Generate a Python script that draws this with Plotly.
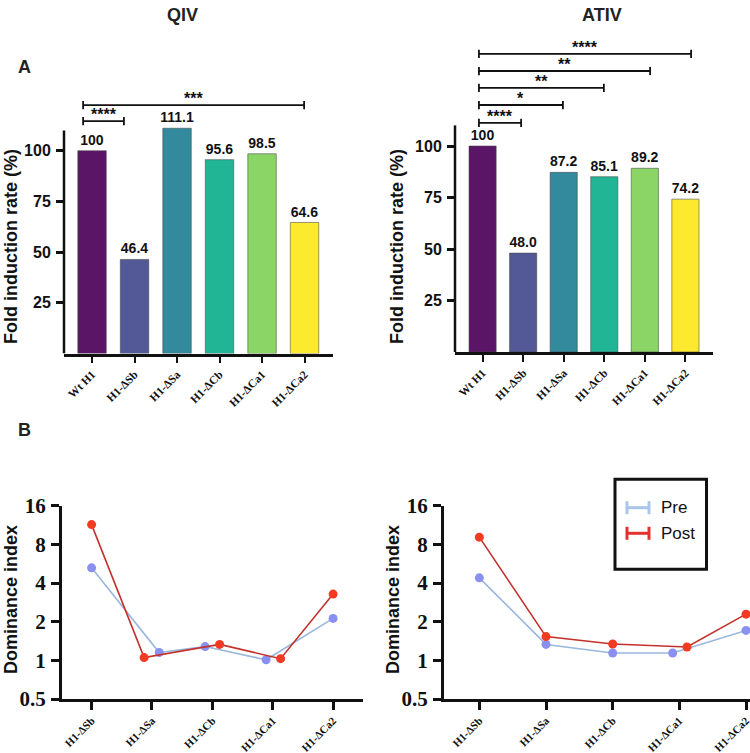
import plotly.graph_objects as go

# ---------------- data ----------------
bar_categories = ["Wt H1", "H1-ΔSb", "H1-ΔSa", "H1-ΔCb", "H1-ΔCa1", "H1-ΔCa2"]
qiv_values = [100, 46.4, 111.1, 95.6, 98.5, 64.6]
ativ_values = [100, 48.0, 87.2, 85.1, 89.2, 74.2]
bar_colors = ["#5a1566", "#525996", "#338a9c", "#22b595", "#8bd567", "#fde92e"]

# significance brackets (start/end in category units, height in %)
qiv_sig_start = [-0.21, -0.21]
qiv_sig_end = [0.75, 4.99]
qiv_sig_y = [114.6, 122.5]
qiv_sig_label = ["****", "***"]

ativ_sig_start = [-0.09, -0.09, -0.09, -0.09, -0.09]
ativ_sig_end = [0.95, 1.98, 2.99, 4.13, 5.14]
ativ_sig_y = [111.2, 119.9, 128.2, 136.4, 144.7]
ativ_sig_label = ["****", "*", "**", "**", "****"]

line_categories = ["H1-ΔSb", "H1-ΔSa", "H1-ΔCb", "H1-ΔCa1", "H1-ΔCa2"]
qiv_pre = [5.25, 1.15, 1.28, 1.01, 2.12]
qiv_post = [11.4, 1.05, 1.33, 1.03, 3.28]
ativ_pre = [4.39, 1.33, 1.14, 1.14, 1.71]
ativ_post = [9.1, 1.53, 1.34, 1.27, 2.29]
# horizontal dodge of overlapping points (category units)
qiv_pre_dx = [0, 0.12, -0.12, -0.11, 0]
qiv_post_dx = [0, -0.13, 0.12, 0.13, 0]
ativ_pre_dx = [0, 0, 0, -0.10, 0]
ativ_post_dx = [0, 0, 0, 0.115, 0]

dom_ticks = [0.5, 1, 2, 4, 8, 16]
bar_ticks = [25, 50, 75, 100]

W, H = 750, 753
def px(x):
    return x / W
def py(y):
    return 1 - y / H

SANS = "Liberation Sans"
SERIF = "Liberation Serif"

pre_line = "#9ab7dc"
pre_marker = "#8a90f0"
post_line = "#c4302b"
post_marker = "#f33a22"

fig = go.Figure()

def label_fmt(v):
    return "100" if v == 100 else f"{v:.1f}"

# ---------------- bar charts ----------------
for vals, xa, ya in [(qiv_values, "x", "y"), (ativ_values, "x2", "y2")]:
    fig.add_trace(go.Bar(
        x=list(range(len(bar_categories))), y=vals,
        marker=dict(color=bar_colors, line=dict(color="rgba(70,70,70,0.55)", width=1)),
        width=0.67,
        text=[label_fmt(v) for v in vals], textposition="outside", constraintext="none",
        textfont=dict(family=SANS, size=14, color="#111", weight="bold"),
        cliponaxis=False, xaxis=xa, yaxis=ya, showlegend=False,
    ))

# ---------------- line charts ----------------
for pre, post, pdx, qdx, xa, ya in [
    (qiv_pre, qiv_post, qiv_pre_dx, qiv_post_dx, "x3", "y3"),
    (ativ_pre, ativ_post, ativ_pre_dx, ativ_post_dx, "x4", "y4"),
]:
    fig.add_trace(go.Scatter(
        x=[i + d for i, d in enumerate(pdx)], y=pre, mode="lines+markers",
        line=dict(color=pre_line, width=1.6),
        marker=dict(color=pre_marker, size=9),
        cliponaxis=False, xaxis=xa, yaxis=ya, showlegend=False, name="Pre"))
    fig.add_trace(go.Scatter(
        x=[i + d for i, d in enumerate(qdx)], y=post, mode="lines+markers",
        line=dict(color=post_line, width=1.6),
        marker=dict(color=post_marker, size=9),
        cliponaxis=False, xaxis=xa, yaxis=ya, showlegend=False, name="Post"))

shapes = []
annotations = []

# significance brackets
cap = 2.0
for starts, ends, ys, labs, xr, yr in [
    (qiv_sig_start, qiv_sig_end, qiv_sig_y, qiv_sig_label, "x", "y"),
    (ativ_sig_start, ativ_sig_end, ativ_sig_y, ativ_sig_label, "x2", "y2"),
]:
    for s, e, y, lab in zip(starts, ends, ys, labs):
        ln = dict(color="#111", width=1.8)
        shapes.append(dict(type="line", xref=xr, yref=yr, x0=s, x1=e, y0=y, y1=y, line=ln))
        shapes.append(dict(type="line", xref=xr, yref=yr, x0=s, x1=s, y0=y - cap, y1=y + cap, line=ln))
        shapes.append(dict(type="line", xref=xr, yref=yr, x0=e, x1=e, y0=y - cap, y1=y + cap, line=ln))
        annotations.append(dict(xref=xr, yref=yr, x=(s + e) / 2, y=y, text=lab, showarrow=False,
                                yanchor="bottom", yshift=-4,
                                font=dict(family=SANS, size=16, color="#111", weight="bold")))

# manual y axis lines for bar charts (stop at 110)
for yr, xr in [("y", "x domain"), ("y2", "x2 domain")]:
    shapes.append(dict(type="line", xref=xr, yref=yr, x0=0, x1=0, y0=0, y1=110,
                       line=dict(color="#111", width=2.5)))

# manual legend
shapes.append(dict(type="rect", xref="paper", yref="paper", x0=px(615), x1=px(706.5),
                   y0=py(569.3), y1=py(479.3), line=dict(color="#111", width=3)))
for yy, col, name in [(507.7, "#a9c6ea", "Pre"), (533.3, "#e53030", "Post")]:
    shapes.append(dict(type="line", xref="paper", yref="paper", x0=px(627), x1=px(649),
                       y0=py(yy), y1=py(yy), line=dict(color=col, width=3)))
    for xx in (627, 649):
        shapes.append(dict(type="line", xref="paper", yref="paper", x0=px(xx), x1=px(xx),
                           y0=py(yy - 6.5), y1=py(yy + 6.5), line=dict(color=col, width=3)))
    annotations.append(dict(xref="paper", yref="paper", x=px(659), y=py(yy), text=name,
                            showarrow=False, xanchor="left", yanchor="middle",
                            font=dict(family=SANS, size=17, color="#111")))

# titles and labels
def txt(x, y, t, size, angle=0, family=SANS, color="#222"):
    annotations.append(dict(xref="paper", yref="paper", x=px(x), y=py(y), text=t, showarrow=False,
                            xanchor="center", yanchor="middle", textangle=angle,
                            font=dict(family=family, size=size, color=color, weight="bold")))

txt(182, 15, "QIV", 18)
txt(601.5, 15, "ATIV", 18)
txt(24, 67, "A", 18)
txt(24, 430, "B", 18)
txt(11, 247, "Fold induction rate (%)", 18, -90, color="#111")
txt(397, 247, "Fold induction rate (%)", 18, -90, color="#111")
txt(11, 600, "Dominance index", 18, -90, color="#111")
txt(393, 600, "Dominance index", 18, -90, color="#111")

bar_x = dict(tickmode="array", tickvals=list(range(len(bar_categories))), ticktext=bar_categories,
             tickangle=-45, tickfont=dict(family=SERIF, size=11.5, color="#111", weight="bold"),
             showline=True, linecolor="#111", linewidth=2.5, ticks="outside", ticklen=7,
             tickwidth=2, tickcolor="#111", showgrid=False, zeroline=False, automargin=False,
             ticklabeloverflow="allow")
bar_y = dict(tickmode="array", tickvals=bar_ticks, showline=False, ticks="outside", ticklen=7,
             tickwidth=2.5, tickcolor="#111", showgrid=False, zeroline=False, automargin=False,
             tickfont=dict(family=SANS, size=16, color="#111", weight="bold"), ticklabelstandoff=2)
dom_x = dict(tickmode="array", tickvals=list(range(len(line_categories))), ticktext=line_categories,
             tickangle=-45, tickfont=dict(family=SERIF, size=11, color="#111", weight="bold"),
             showline=True, linecolor="#111", linewidth=3, ticks="outside", ticklen=8,
             tickwidth=2.5, tickcolor="#111", showgrid=False, zeroline=False, automargin=False,
             ticklabeloverflow="allow", ticklabelstandoff=0)
dom_y = dict(type="log", range=[-0.30103, 1.20412], tickmode="array", tickvals=dom_ticks,
             ticktext=[f"{t:g}" for t in dom_ticks], showline=True, linecolor="#111", linewidth=3,
             ticks="outside", ticklen=8, tickwidth=3, tickcolor="#111", showgrid=False,
             zeroline=False, tickfont=dict(family=SERIF, size=21, color="#111", weight="bold"),
             ticklabelstandoff=1, automargin=False)

fig.update_layout(
    width=W, height=H, margin=dict(l=0, r=0, t=0, b=0, autoexpand=False),
    paper_bgcolor="white", plot_bgcolor="white",
    xaxis=dict(bar_x, domain=[px(64), px(333)], range=[-0.66, 5.67], anchor="y"),
    yaxis=dict(bar_y, domain=[py(353.5), py(89.9)], range=[0, 130], anchor="x"),
    xaxis2=dict(bar_x, domain=[px(455), px(713)], range=[-0.68, 5.68], anchor="y2"),
    yaxis2=dict(bar_y, domain=[py(352), py(43)], range=[0, 150], anchor="x2"),
    xaxis3=dict(dom_x, domain=[px(62), px(362.7)], range=[-0.49, 4.49], anchor="y3"),
    yaxis3=dict(dom_y, domain=[py(699), py(505.7)], anchor="x3"),
    xaxis4=dict(dom_x, domain=[px(444), 1.0], range=[-0.53, 4.06], anchor="y4"),
    yaxis4=dict(dom_y, domain=[py(699), py(505.7)], anchor="x4"),
    shapes=shapes, annotations=annotations, bargap=0.33,
)

# remove the default 8px page margin so the figure fills the window exactly
fig.write_html("out.html", config={"displayModeBar": False},
               post_script="document.body.style.margin='0';document.body.style.overflow='hidden';")
